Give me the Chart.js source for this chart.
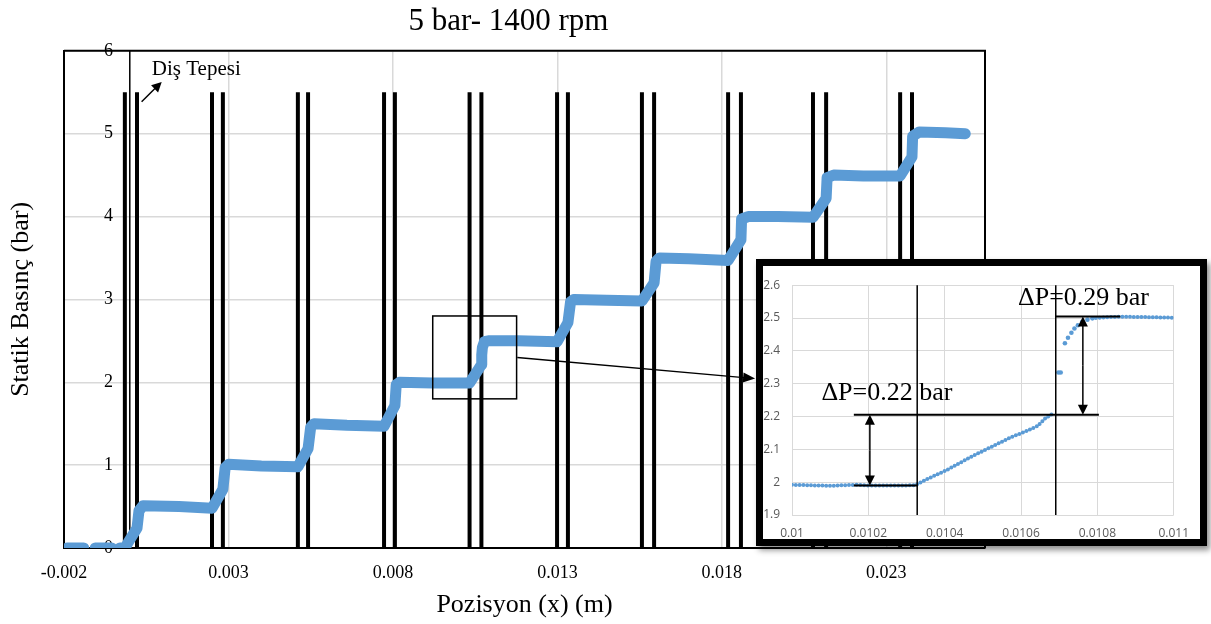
<!DOCTYPE html>
<html lang="tr">
<head>
<meta charset="UTF-8">
<title>5 bar- 1400 rpm</title>
<script src="https://cdn.jsdelivr.net/npm/chart.js@4"></script>
<style>
    body { margin: 0; background: #fff; }
    .grafik { position: absolute; left: 0; top: 0; width: 1211px; height: 624px; }
    .detay {
        position: absolute; left: 756px; top: 259px;
        width: 437px; height: 273px;
        border: 7px solid #000; background: #fff;
        box-shadow: 3px 4px 6px rgba(0, 0, 0, 0.45);
    }
</style>
</head>
<body>
<div class="grafik"><canvas id="anaGrafik" width="1211" height="624"></canvas></div>
<div class="detay"><canvas id="detayGrafik" width="437" height="273"></canvas></div>

<script>
// ---- ana grafik verisi: pozisyon (m) / statik basinc (bar), null = bosluk
const pozisyon = [
    -0.0019, -0.0014, -0.0012,
    -0.00105, -0.00055, -0.0004,
    -0.0003, -0.00015, 0.0, 0.00022, 0.00028, 0.0004,
    0.0015, 0.0025, 0.00283, 0.0029, 0.003,
    0.004, 0.00511, 0.00542, 0.0055, 0.0056,
    0.0066, 0.00773, 0.00806, 0.0081, 0.0082,
    0.0092, 0.01033, 0.01069, 0.0107, 0.01072, 0.01078, 0.0109,
    0.0118, 0.01299, 0.01332, 0.0134, 0.0135,
    0.0145, 0.01557, 0.01594, 0.016, 0.0161,
    0.017, 0.01819, 0.01858, 0.0186, 0.0188,
    0.0197, 0.02077, 0.02117, 0.0212, 0.0214,
    0.0223, 0.02342, 0.02378, 0.0238, 0.024,
    0.0248, 0.0254
];
const basinc = [
    0, 0, null,
    0, 0, null,
    0, 0, 0.1, 0.24, 0.45, 0.51,
    0.5, 0.48, 0.71, 0.97, 1.01,
    0.99, 0.98, 1.2, 1.46, 1.5,
    1.48, 1.47, 1.72, 1.97, 2.0,
    1.99, 1.99, 2.21, 2.33, 2.42, 2.49, 2.5,
    2.5, 2.49, 2.72, 2.97, 3.0,
    2.99, 2.98, 3.2, 3.46, 3.5,
    3.49, 3.47, 3.72, 3.97, 4.0,
    4.0, 3.99, 4.22, 4.47, 4.5,
    4.49, 4.49, 4.72, 4.97, 5.02,
    5.01, 5.0
];

// dis tepesi cizgileri (m) ve yukseklikleri (bar)
const disTepesi = [
    -0.00015, 0.00022, 0.0025, 0.00283, 0.00511, 0.00542, 0.00773, 0.00806,
    0.01033, 0.01069, 0.01299, 0.01332, 0.01557, 0.01594, 0.01819, 0.01858,
    0.02077, 0.02117, 0.02342, 0.02378
];
const disAlt = 0, disUst = 5.5;

const xEtiketleri = [-0.002, 0.003, 0.008, 0.013, 0.018, 0.023];
const yEtiketleri = [0, 1, 2, 3, 4, 5, 6];

// kutu ve oklar (veri koordinatlari)
const kutuX = [0.00921, 0.01176];
const kutuY = [1.80, 2.80];
const buyutmeOku = [0.01178, 2.30, 0.01901, 2.044];
const disOku = [0.00036, 5.386, 0.00097, 5.625];
const disYazi = [0.00067, 5.71];

// ---- detay grafigi verisi
const detayX = [0.01, 0.0101, 0.01017, 0.0102, 0.0103, 0.010323, 0.010336, 0.010357, 0.010404,
    0.010472, 0.010532, 0.010574, 0.010617, 0.010643, 0.010664, 0.010685];
const detayY = [1.992, 1.989, 1.992, 1.99, 1.99, 1.991, 1.999, 2.011, 2.036,
    2.079, 2.113, 2.137, 2.157, 2.171, 2.195, 2.21];
const sicramaX = [0.010698, 0.010704, 0.010715, 0.010723, 0.010732, 0.01074, 0.010749, 0.01076, 0.010774, 0.010787];
const sicramaY = [2.334, 2.334, 2.423, 2.44, 2.455, 2.468, 2.478, 2.488, 2.495, 2.499];
const sonX = [0.010796, 0.01083, 0.010872, 0.010915, 0.011];
const sonY = [2.5, 2.503, 2.504, 2.503, 2.501];

const detayXEtiket = [0.01, 0.0102, 0.0104, 0.0106, 0.0108, 0.011];
const detayYEtiket = [1.9, 2, 2.1, 2.2, 2.3, 2.4, 2.5, 2.6];

const dikeyCizgi = [0.010328, 0.010691];
const yatayY = [1.99, 2.205, 2.505];
const yatayBas = [0.010162, 0.010162, 0.010689];
const yataySon = [0.010328, 0.010804, 0.01086];
const okX = [0.010204, 0.010762];
const okAlt = [1.99, 2.205];
const okUst = [2.205, 2.505];
const dpYazi = ['ΔP=0.22 bar', 'ΔP=0.29 bar'];
const dpX = [0.010077, 0.010592];
const dpY = [2.249, 2.539];

const serif = '"Liberation Serif", "Times New Roman", serif';
const mavi = '#5b9bd5';
const izgara = '#d9d9d9';

// ok cizimi (ucunda dolu ucgen)
function okCiz(ctx, x1, y1, x2, y2, boy, en) {
    const a = Math.atan2(y2 - y1, x2 - x1);
    ctx.beginPath();
    ctx.moveTo(x1, y1);
    ctx.lineTo(x2 - Math.cos(a) * boy * 0.7, y2 - Math.sin(a) * boy * 0.7);
    ctx.stroke();
    ctx.beginPath();
    ctx.moveTo(x2, y2);
    ctx.lineTo(x2 - boy * Math.cos(a) + en * Math.sin(a), y2 - boy * Math.sin(a) - en * Math.cos(a));
    ctx.lineTo(x2 - boy * Math.cos(a) - en * Math.sin(a), y2 - boy * Math.sin(a) + en * Math.cos(a));
    ctx.closePath();
    ctx.fill();
}

// ---- ana grafik
var disNoktalari = [];
for (var i = 0; i < disTepesi.length; i++) {
    disNoktalari.push({ x: disTepesi[i], y: disAlt });
    disNoktalari.push({ x: disTepesi[i], y: disUst });
    disNoktalari.push({ x: disTepesi[i], y: null });
}

const anaCizimler = {
    id: 'anaCizimler',
    beforeDatasetsDraw(chart) {
        const { ctx, chartArea: a, scales: { x } } = chart;
        ctx.save();
        // x = 0 dikey ekseni
        ctx.strokeStyle = '#000';
        ctx.lineWidth = 1.5;
        ctx.beginPath();
        ctx.moveTo(x.getPixelForValue(0), a.top);
        ctx.lineTo(x.getPixelForValue(0), a.bottom);
        ctx.stroke();
        ctx.restore();
    },
    afterDatasetsDraw(chart) {
        const { ctx, chartArea: a, scales: { x, y } } = chart;
        ctx.save();
        ctx.strokeStyle = '#000';
        ctx.fillStyle = '#000';
        // cerceve ust ve sag
        ctx.lineWidth = 2;
        ctx.beginPath();
        ctx.moveTo(a.left, a.top);
        ctx.lineTo(a.right, a.top);
        ctx.lineTo(a.right, a.bottom);
        ctx.stroke();

        // buyutme kutusu
        ctx.lineWidth = 1.5;
        const kx1 = x.getPixelForValue(kutuX[0]), kx2 = x.getPixelForValue(kutuX[1]);
        const ky1 = y.getPixelForValue(kutuY[1]), ky2 = y.getPixelForValue(kutuY[0]);
        ctx.strokeRect(kx1, ky1, kx2 - kx1, ky2 - ky1);

        ctx.lineWidth = 1.5;
        okCiz(ctx, x.getPixelForValue(buyutmeOku[0]), y.getPixelForValue(buyutmeOku[1]),
            x.getPixelForValue(buyutmeOku[2]), y.getPixelForValue(buyutmeOku[3]), 12, 5);
        okCiz(ctx, x.getPixelForValue(disOku[0]), y.getPixelForValue(disOku[1]),
            x.getPixelForValue(disOku[2]), y.getPixelForValue(disOku[3]), 10, 5);

        ctx.font = '21px ' + serif;
        ctx.textAlign = 'left';
        ctx.textBaseline = 'alphabetic';
        ctx.fillText('Diş Tepesi', x.getPixelForValue(disYazi[0]), y.getPixelForValue(disYazi[1]));
        ctx.restore();
    }
};

new Chart(document.getElementById('anaGrafik'), {
    type: 'line',
    data: {
        datasets: [
            {
                label: 'Statik Basınç',
                data: pozisyon.map((v, i) => ({ x: v, y: basinc[i] })),
                borderColor: mavi,
                borderWidth: 11,
                borderCapStyle: 'round',
                borderJoinStyle: 'round',
                pointRadius: 0,
                tension: 0,
                spanGaps: false,
                order: 0
            },
            {
                label: 'Diş Tepesi',
                data: disNoktalari,
                borderColor: '#000',
                borderWidth: 4,
                pointRadius: 0,
                spanGaps: false,
                order: 1
            }
        ]
    },
    options: {
        responsive: false,
        animation: false,
        layout: { padding: { left: 32, right: 226, top: 0, bottom: 0 } },
        plugins: {
            legend: { display: false },
            tooltip: { enabled: false },
            title: {
                display: true,
                text: '5 bar- 1400 rpm',
                color: '#000',
                font: { family: serif, size: 31, weight: 'normal' },
                padding: { top: 0, bottom: 10 }
            }
        },
        scales: {
            x: {
                type: 'linear',
                min: -0.002,
                max: 0.026,
                afterBuildTicks: s => { s.ticks = xEtiketleri.map(v => ({ value: v })); },
                afterFit: s => { s.height = 76; },
                ticks: {
                    autoSkip: false, maxRotation: 0, padding: 14, color: '#000',
                    font: { family: serif, size: 18 },
                    callback: v => v.toFixed(3)
                },
                grid: { color: izgara, lineWidth: 1.5, drawTicks: false },
                border: { color: '#000', width: 2 },
                title: {
                    display: true, text: 'Pozisyon (x) (m)', color: '#000',
                    font: { family: serif, size: 26 },
                    padding: { top: 0, bottom: 3 }
                }
            },
            y: {
                min: 0,
                max: 6,
                afterBuildTicks: s => { s.ticks = yEtiketleri.map(v => ({ value: v })); },
                afterFit: s => { s.width = 32; },
                ticks: {
                    mirror: true, padding: 40, color: '#000',
                    font: { family: serif, size: 18 }
                },
                grid: { color: izgara, lineWidth: 1.5, drawTicks: false },
                border: { color: '#000', width: 2 },
                title: {
                    display: true, text: 'Statik Basınç (bar)', color: '#000',
                    font: { family: serif, size: 26 },
                    padding: { top: -26, bottom: 0 }
                }
            }
        }
    },
    plugins: [anaCizimler]
});

// ---- detay grafigi
const detayCizimler = {
    id: 'detayCizimler',
    afterDatasetsDraw(chart) {
        const { ctx, chartArea: a, scales: { x, y } } = chart;
        ctx.save();
        ctx.strokeStyle = '#000';
        ctx.fillStyle = '#000';

        ctx.lineWidth = 1.5;
        for (var i = 0; i < dikeyCizgi.length; i++) {
            const px = x.getPixelForValue(dikeyCizgi[i]);
            ctx.beginPath();
            ctx.moveTo(px, a.top);
            ctx.lineTo(px, a.bottom);
            ctx.stroke();
        }

        ctx.lineWidth = 2;
        for (var j = 0; j < yatayY.length; j++) {
            const py = y.getPixelForValue(yatayY[j]);
            ctx.beginPath();
            ctx.moveTo(x.getPixelForValue(yatayBas[j]), py);
            ctx.lineTo(x.getPixelForValue(yataySon[j]), py);
            ctx.stroke();
        }

        ctx.lineWidth = 1.5;
        for (var k = 0; k < okX.length; k++) {
            const px = x.getPixelForValue(okX[k]);
            const p1 = y.getPixelForValue(okAlt[k]), p2 = y.getPixelForValue(okUst[k]);
            const orta = (p1 + p2) / 2;
            okCiz(ctx, px, orta, px, p1, 10, 5);
            okCiz(ctx, px, orta, px, p2, 10, 5);
        }

        ctx.font = '26px ' + serif;
        ctx.textAlign = 'left';
        ctx.textBaseline = 'alphabetic';
        for (var m = 0; m < dpYazi.length; m++) {
            ctx.fillText(dpYazi[m], x.getPixelForValue(dpX[m]), y.getPixelForValue(dpY[m]));
        }
        ctx.restore();
    }
};

const noktaliCizgi = {
    borderColor: mavi,
    borderWidth: 4,
    borderDash: [0, 3.8],
    borderCapStyle: 'round',
    pointRadius: 0,
    tension: 0
};

new Chart(document.getElementById('detayGrafik'), {
    type: 'line',
    data: {
        datasets: [
            Object.assign({ data: detayX.map((v, i) => ({ x: v, y: detayY[i] })) }, noktaliCizgi),
            {
                data: sicramaX.map((v, i) => ({ x: v, y: sicramaY[i] })),
                showLine: false,
                pointRadius: 2.3,
                pointBackgroundColor: mavi,
                pointBorderWidth: 0
            },
            Object.assign({ data: sonX.map((v, i) => ({ x: v, y: sonY[i] })) }, noktaliCizgi)
        ]
    },
    options: {
        responsive: false,
        animation: false,
        layout: { padding: { left: 0, right: 17, top: 8, bottom: 0 } },
        plugins: { legend: { display: false }, tooltip: { enabled: false } },
        scales: {
            x: {
                type: 'linear',
                min: 0.01,
                max: 0.011,
                afterBuildTicks: s => { s.ticks = detayXEtiket.map(v => ({ value: v })); },
                afterFit: s => { s.height = 24; },
                ticks: {
                    autoSkip: false, maxRotation: 0, padding: 11, color: '#595959',
                    font: { family: '"Open Sans", sans-serif', size: 12 },
                    callback: v => String(Number(v.toFixed(4)))
                },
                grid: { color: izgara, drawTicks: false },
                border: { display: false }
            },
            y: {
                min: 1.9,
                max: 2.6,
                afterBuildTicks: s => { s.ticks = detayYEtiket.map(v => ({ value: v })); },
                afterFit: s => { s.width = 29; },
                ticks: {
                    padding: 12, color: '#595959',
                    font: { family: '"Open Sans", sans-serif', size: 12 },
                    callback: v => String(Number(v.toFixed(1)))
                },
                grid: { color: izgara, drawTicks: false },
                border: { display: false }
            }
        }
    },
    plugins: [detayCizimler]
});
</script>
</body>
</html>
